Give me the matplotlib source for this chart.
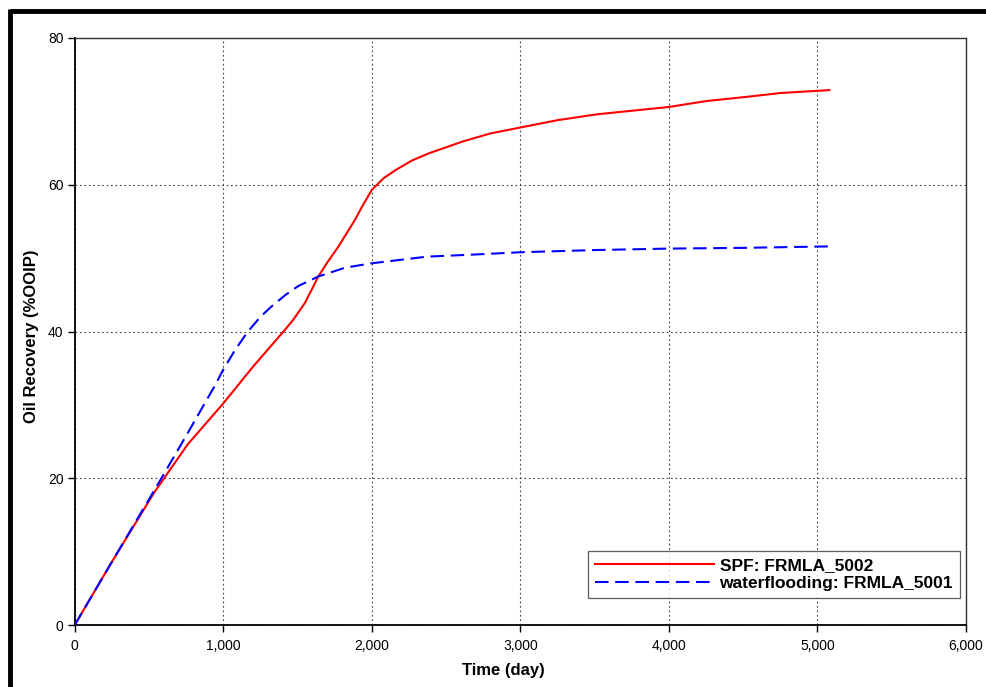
import matplotlib
matplotlib.use("Agg")
import matplotlib.pyplot as plt
from matplotlib.lines import Line2D

plt.rcParams['font.family'] = ['Liberation Sans', 'DejaVu Sans']

# Data
spf_time = [0, 250, 533, 760, 1000, 1200, 1414, 1471, 1550, 1640, 1700, 1776, 1889, 1934, 2000,
            2080, 2160, 2270, 2386, 2500, 2612, 2800, 3000, 3250, 3516, 4000, 4250, 4533,
            4750, 5000, 5080]
spf_rec = [0, 8.6, 18.0, 24.6, 30.2, 35.2, 40.2, 41.6, 43.9, 47.5, 49.4, 51.6, 55.3, 57.0, 59.3,
           60.9, 62.0, 63.3, 64.3, 65.1, 65.9, 67.0, 67.8, 68.8, 69.6, 70.6, 71.4, 72.0,
           72.5, 72.8, 72.9]
wf_time = [0, 250, 578, 759, 940, 1000, 1080, 1166, 1250, 1324, 1420, 1505, 1640, 1821, 2000,
           2206, 2370, 2700, 3000, 3500, 4000, 4500, 5080]
wf_rec = [0, 8.6, 19.8, 26.1, 32.5, 34.8, 37.5, 40.0, 42.0, 43.4, 45.0, 46.2, 47.5, 48.7, 49.3,
          49.8, 50.2, 50.5, 50.8, 51.1, 51.3, 51.4, 51.6]
spf_label = "SPF: FRMLA_5002"
wf_label = "waterflooding: FRMLA_5001"
x_ticks = [0, 1000, 2000, 3000, 4000, 5000, 6000]
y_ticks = [0, 20, 40, 60, 80]

fig = plt.figure(figsize=(9.87, 6.87), dpi=100)
ax = fig.add_axes([0.0757, 0.0902, 0.9030, 0.8545])

ax.plot(spf_time, spf_rec, color='#ff0000', lw=1.5, label=spf_label, zorder=3)
ax.plot(wf_time, wf_rec, color='#0000ff', lw=1.5, ls=(0, (6.5, 3.2)), label=wf_label, zorder=3)

ax.set_xlim(0, 6000)
ax.set_ylim(0, 80)
ax.set_xticks(x_ticks)
ax.set_xticklabels([f"{v:,}" for v in x_ticks])
ax.set_yticks(y_ticks)
ax.set_yticklabels([str(v) for v in y_ticks])
ax.tick_params(direction='out', length=5, width=1, labelsize=10, colors='black')
ax.tick_params(axis='x', pad=5)
ax.tick_params(axis='y', pad=3)
ax.grid(True, color='#444444', ls=(0, (1.5, 2.5)), lw=0.8)
ax.set_axisbelow(True)

for side in ['left', 'bottom']:
    ax.spines[side].set_linewidth(1.3)
for side in ['top', 'right']:
    ax.spines[side].set_linewidth(1.0)
    ax.spines[side].set_color('#333333')

ax.set_xlabel("Time (day)", fontsize=12, fontweight='bold')
ax.xaxis.set_label_coords((504 - 75) / 891, -(678 - 625) / 587)
ax.xaxis.label.set_va('bottom')
ax.set_ylabel("Oil Recovery (%OOIP)", fontsize=12, fontweight='bold')
ax.yaxis.set_label_coords(-(75 - 39) / 891, (625 - 336) / 587)

leg = ax.legend(loc='lower right', bbox_to_anchor=((960 - 75) / 891, 0.046), frameon=True,
                fancybox=False, edgecolor='#333333', handlelength=6.9, handletextpad=0.3,
                borderpad=0.4, borderaxespad=0.0, labelspacing=0.18,
                prop={'weight': 'bold', 'size': 12.5})
leg.get_frame().set_linewidth(0.9)

# Outer black frame (top and left)
fig.add_artist(Line2D([10.5/987, 1.0], [1 - 10.5/687, 1 - 10.5/687], color='black', lw=3.5,
                      transform=fig.transFigure, solid_capstyle='butt'))
fig.add_artist(Line2D([10.5/987, 10.5/987], [0, 1 - 9/687], color='black', lw=3.5,
                      transform=fig.transFigure, solid_capstyle='butt'))

fig.savefig("out.png", dpi=100)
